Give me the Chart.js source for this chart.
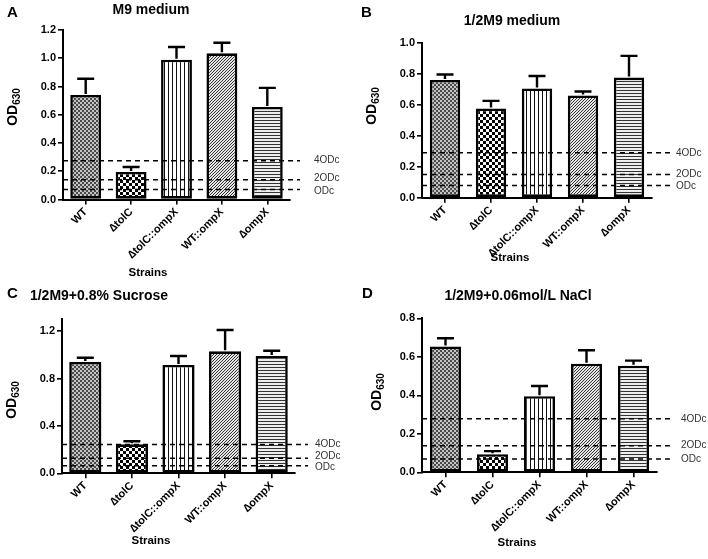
<!DOCTYPE html>
<html>
<head>
<meta charset="utf-8">
<script src="https://cdn.jsdelivr.net/npm/chart.js@4.4.1/dist/chart.umd.min.js"></script>
<style>
  html, body { margin: 0; padding: 0; background: #fff; }
  body { width: 708px; height: 559px; position: relative; overflow: hidden; font-family: 'Liberation Sans', Arial, sans-serif; }
  .panel { position: absolute; }
  .txt { position: absolute; white-space: nowrap; color: #000; font-weight: bold; transform: translate(-50%, -50%); }
  .letter { position: absolute; font-weight: bold; font-size: 15px; color: #000; }
  .ytitle { position: absolute; white-space: nowrap; font-weight: bold; font-size: 14px; color: #000; transform: translate(-50%, -50%) rotate(-90deg); }
  .ytitle sub { font-size: 10px; }
</style>
</head>
<body>
<div class="panel" style="left:0;top:0"><canvas id="cA" width="354" height="280"></canvas></div>
<div class="panel" style="left:354px;top:0"><canvas id="cB" width="354" height="280"></canvas></div>
<div class="panel" style="left:0;top:280px"><canvas id="cC" width="354" height="279"></canvas></div>
<div class="panel" style="left:354px;top:280px"><canvas id="cD" width="354" height="279"></canvas></div>

<div class="letter" style="left:7px;top:3px">A</div>
<div class="letter" style="left:361px;top:3px">B</div>
<div class="letter" style="left:7px;top:284px">C</div>
<div class="letter" style="left:362px;top:284px">D</div>

<div class="txt" style="left:151px;top:9px;font-size:14px">M9 medium</div>
<div class="txt" style="left:512px;top:20px;font-size:14px">1/2M9 medium</div>
<div class="txt" style="left:99px;top:295px;font-size:14px">1/2M9+0.8% Sucrose</div>
<div class="txt" style="left:518px;top:295px;font-size:14px">1/2M9+0.06mol/L NaCl</div>

<div class="ytitle" style="left:13px;top:107px">OD<sub>630</sub></div>
<div class="ytitle" style="left:372px;top:106px">OD<sub>630</sub></div>
<div class="ytitle" style="left:12px;top:400px">OD<sub>630</sub></div>
<div class="ytitle" style="left:377px;top:392px">OD<sub>630</sub></div>

<div class="txt" style="left:148px;top:272px;font-size:11.5px">Strains</div>
<div class="txt" style="left:510px;top:257px;font-size:11.5px">Strains</div>
<div class="txt" style="left:151px;top:540px;font-size:11.5px">Strains</div>
<div class="txt" style="left:517px;top:542px;font-size:11.5px">Strains</div>

<script>
// ---------------- DATA ----------------
const categories = ['WT', '\u2206tolC', '\u2206tolC::ompX', 'WT::ompX', '\u2206ompX'];
const threshLabels = ['4ODc', '2ODc', 'ODc'];

// Panel A: M9 medium
const meansA  = [0.74, 0.195, 0.99, 1.035, 0.655];
const errA    = [0.115, 0.035, 0.09, 0.075, 0.135];
const threshA = [0.275, 0.14, 0.07];
const yTicksA = { max: 1.2, step: 0.2 };

// Panel B: 1/2M9 medium
const meansB  = [0.76, 0.575, 0.705, 0.66, 0.775];
const errB    = [0.035, 0.05, 0.08, 0.025, 0.14];
const threshB = [0.29, 0.15, 0.078];
const yTicksB = { max: 1.0, step: 0.2 };

// Panel C: 1/2M9 + 0.8% Sucrose
const meansC  = [0.94, 0.245, 0.915, 1.03, 0.99];
const errC    = [0.035, 0.025, 0.075, 0.18, 0.045];
const threshC = [0.243, 0.128, 0.064];
const yTicksC = { max: 1.3, step: 0.4 };

// Panel D: 1/2M9 + 0.06mol/L NaCl
const meansD  = [0.654, 0.094, 0.395, 0.564, 0.554];
const errD    = [0.042, 0.016, 0.053, 0.07, 0.026];
const threshD = [0.278, 0.138, 0.069];
const yTicksD = { max: 0.8, step: 0.2 };

// ---------------- STYLE ----------------
const FONT = "'Liberation Sans', Arial, sans-serif";

function makePattern(w, h, draw) {
  const c = document.createElement('canvas');
  c.width = w; c.height = h;
  const g = c.getContext('2d');
  draw(g);
  return g.createPattern(c, 'repeat');
}
function patterns() {
  const pWT = makePattern(4, 4, g => {
    g.fillStyle = '#c4c4c4'; g.fillRect(0, 0, 4, 4);
    g.fillStyle = '#4a4a4a'; g.fillRect(0, 0, 2, 2); g.fillRect(2, 2, 2, 2);
  });
  const pTol = makePattern(6, 6, g => {
    g.fillStyle = '#fff'; g.fillRect(0, 0, 6, 6);
    g.fillStyle = '#000'; g.fillRect(0, 0, 3, 3); g.fillRect(3, 3, 3, 3);
  });
  const pVert = makePattern(4, 4, g => {
    g.fillStyle = '#fff'; g.fillRect(0, 0, 4, 4);
    g.fillStyle = '#111'; g.fillRect(0, 0, 1, 4);
  });
  const pDiag = makePattern(3, 3, g => {
    g.fillStyle = '#e6e6e6'; g.fillRect(0, 0, 3, 3);
    g.fillStyle = '#333'; g.fillRect(2, 0, 1, 1); g.fillRect(1, 1, 1, 1); g.fillRect(0, 2, 1, 1);
  });
  const pHor = makePattern(3, 3, g => {
    g.fillStyle = '#eeeeee'; g.fillRect(0, 0, 3, 3);
    g.fillStyle = '#333'; g.fillRect(0, 0, 3, 1);
  });
  return [pWT, pTol, pVert, pDiag, pHor];
}

const overlayPlugin = {
  id: 'overlay',
  afterDatasetsDraw(chart, args, o) {
    const ctx = chart.ctx;
    const ys = chart.scales.y;
    const area = chart.chartArea;
    ctx.save();
    // threshold dashed lines
    ctx.strokeStyle = '#000';
    ctx.lineWidth = 1.5;
    ctx.setLineDash([5, 4]);
    const ys0 = o.thresh.map(t => ys.getPixelForValue(t));
    ys0.forEach(py => {
      ctx.beginPath();
      ctx.moveTo(area.left, py);
      ctx.lineTo(area.right + o.ext, py);
      ctx.stroke();
    });
    ctx.setLineDash([]);
    // label positions, pushed apart when too close
    const lp = ys0.slice();
    for (let k = 0; k < 3; k++) {
      for (let i = 0; i < lp.length - 1; i++) {
        const d = lp[i + 1] - lp[i];
        if (d < o.minGap) {
          const s = (o.minGap - d) / 2;
          lp[i] -= s; lp[i + 1] += s;
        }
      }
    }
    ctx.fillStyle = '#333';
    ctx.font = '10px ' + FONT;
    ctx.textBaseline = 'middle';
    ctx.textAlign = 'left';
    lp.forEach((py, i) => ctx.fillText(threshLabels[i], area.right + o.ext + o.gap, py));
    // error bars (upper)
    const meta = chart.getDatasetMeta(0);
    ctx.strokeStyle = '#000';
    ctx.lineWidth = 2.4;
    meta.data.forEach((bar, i) => {
      const v = o.means[i], e = o.errs[i];
      const yb = ys.getPixelForValue(v);
      const yt = ys.getPixelForValue(v + e);
      ctx.beginPath();
      ctx.moveTo(bar.x, yb - 1);
      ctx.lineTo(bar.x, yt);
      ctx.moveTo(bar.x - o.cap, yt);
      ctx.lineTo(bar.x + o.cap, yt);
      ctx.stroke();
    });
    ctx.restore();
  }
};

function axisGrid() {
  return { display: true, drawOnChartArea: false, drawTicks: true, tickLength: 5, color: '#000', lineWidth: 1.6, offset: false };
}

function makeChart(id, means, errs, thresh, yt, lay) {
  const canvas = document.getElementById(id);
  return new Chart(canvas, {
    type: 'bar',
    data: {
      labels: categories,
      datasets: [{
        data: means,
        backgroundColor: patterns(),
        borderColor: '#000',
        borderWidth: 2.6,
        borderSkipped: false,
        barPercentage: lay.bp,
        categoryPercentage: 1
      }]
    },
    options: {
      responsive: false,
      animation: false,
      devicePixelRatio: 1,
      layout: { padding: { left: lay.left - lay.yw, right: canvas.width - lay.right, top: lay.top, bottom: 0 } },
      plugins: {
        legend: { display: false },
        tooltip: { enabled: false },
        overlay: { means, errs, thresh, ext: lay.ext, gap: lay.gap, minGap: lay.minGap, cap: 8.5 }
      },
      scales: {
        x: {
          offset: true,
          grid: axisGrid(),
          border: { display: true, color: '#000', width: 2 },
          ticks: { color: '#000', font: { family: FONT, size: 11, weight: 'bold' }, minRotation: 45, maxRotation: 45, autoSkip: false, padding: 1 },
          afterFit: s => { s.height = canvas.height - lay.bottom; }
        },
        y: {
          min: 0,
          max: yt.max,
          grid: axisGrid(),
          border: { display: true, color: '#000', width: 2 },
          ticks: { stepSize: yt.step, includeBounds: false, color: '#000', font: { family: FONT, size: 11, weight: 'bold' }, padding: 2, callback: v => Number(v).toFixed(1) },
          afterFit: s => { s.width = lay.yw; }
        }
      }
    },
    plugins: [overlayPlugin]
  });
}

makeChart('cA', meansA, errA, threshA, yTicksA, { left: 63, right: 290, top: 30, bottom: 199.5, yw: 40, bp: 0.68, ext: 10, gap: 14, minGap: 13 });
makeChart('cB', meansB, errB, threshB, yTicksB, { left: 68, right: 298, top: 42.7, bottom: 197.7, yw: 40, bp: 0.66, ext: 20, gap: 4, minGap: 12 });
makeChart('cC', meansC, errC, threshC, yTicksC, { left: 62, right: 295, top: 39.3, bottom: 193.3, yw: 40, bp: 0.69, ext: 13, gap: 7, minGap: 11 });
makeChart('cD', meansD, errD, threshD, yTicksD, { left: 68, right: 303, top: 38.3, bottom: 192.3, yw: 40, bp: 0.66, ext: 17, gap: 7, minGap: 12 });
</script>
</body>
</html>
